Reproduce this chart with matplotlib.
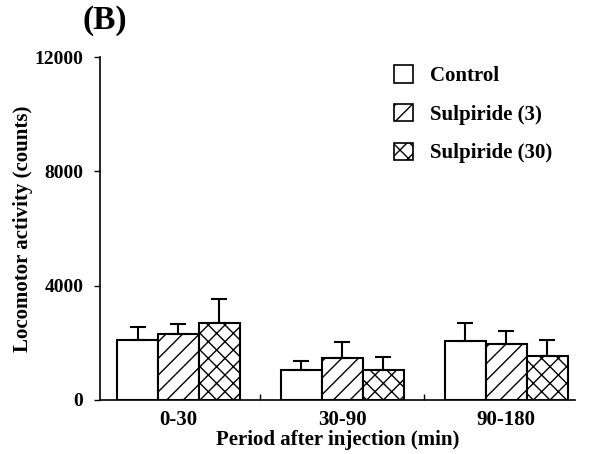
import numpy as np
import matplotlib
matplotlib.use('Agg')
from matplotlib import pyplot as plt
from matplotlib.patches import Patch

#data
periods = ['0-30', '30-90', '90-180']
groups = ['Control', 'Sulpiride (3)', 'Sulpiride (30)']
control = [2100, 1040, 2070]
sulp3 = [2300, 1460, 1970]
sulp30 = [2680, 1050, 1540]
control_err = [460, 330, 640]
sulp3_err = [350, 580, 445]
sulp30_err = [850, 445, 570]
yticks = [0, 4000, 8000, 12000]

plt.rcParams['font.family'] = ['Liberation Serif', 'DejaVu Serif']
plt.rcParams['font.weight'] = 'bold'
plt.rcParams['hatch.linewidth'] = 1.0

fig = plt.figure(figsize=(5.93, 4.54), dpi=100)
ax = fig.add_axes([100/593, 54/454, 475/593, 343/454])

x = np.arange(len(periods))
w = 0.25
hatches = ['', '//', 'xx']
series = [control, sulp3, sulp30]
errs = [control_err, sulp3_err, sulp30_err]
for i in range(3):
    ax.bar(x + (i-1)*w, series[i], w, yerr=[np.zeros(3), errs[i]],
           color='white', edgecolor='black', linewidth=1.5, hatch=hatches[i],
           error_kw=dict(ecolor='black', elinewidth=1.5, capsize=6, capthick=1.5))

ax.set_xlim(-0.479, 2.42)
ax.set_ylim(0, 12000)
ax.set_yticks(yticks)
ax.set_yticklabels([str(t) for t in yticks], fontsize=14, fontweight='bold')
ax.set_xticks(x)
ax.set_xticklabels(periods, fontsize=15, fontweight='bold')
ax.tick_params(axis='x', which='major', length=0, pad=7)
ax.set_xticks([0.5, 1.5], minor=True)
ax.tick_params(axis='x', which='minor', direction='in', length=4, width=1)
ax.tick_params(axis='y', direction='out', length=4, width=1, pad=8)
for s in ['top', 'right']:
    ax.spines[s].set_visible(False)
ax.spines['left'].set_linewidth(1.2)
ax.spines['bottom'].set_linewidth(1.2)

ax.set_ylabel('Locomotor activity (counts)', fontsize=15, fontweight='bold', labelpad=1)
ax.set_xlabel('Period after injection (min)', fontsize=15, fontweight='bold', labelpad=0)

fig.text(82/593, 1 - 21/454, '(B)', fontsize=24, fontweight='bold', va='center', ha='left')

handles = [Patch(facecolor='white', edgecolor='black', hatch=h, linewidth=1.2) for h in hatches]
leg = ax.legend(handles, groups, loc='upper left', bbox_to_anchor=(0.58, 1.03),
                frameon=False, prop={'size': 15, 'weight': 'bold'},
                handlelength=0.9, handleheight=0.9, labelspacing=0.85, handletextpad=0.8)

fig.savefig('out.png', dpi=100)
